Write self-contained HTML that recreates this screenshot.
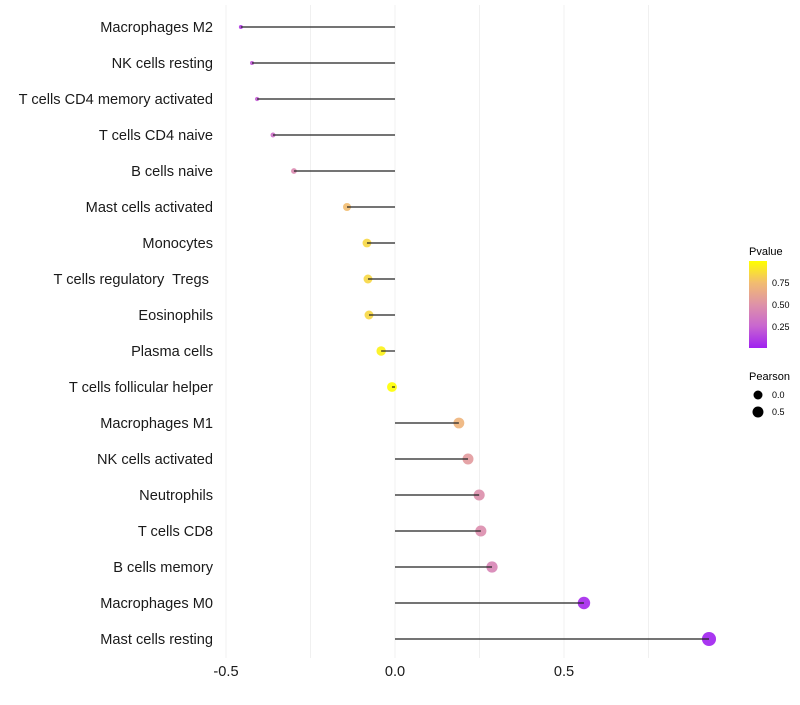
<!DOCTYPE html>
<html><head><meta charset="utf-8"><style>
body{margin:0;background:#fff;font-family:"Liberation Sans",sans-serif;}
text{white-space:pre;}
</style></head><body>
<svg id="chart" width="800" height="700" xmlns="http://www.w3.org/2000/svg">
<defs><linearGradient id="pg" x1="0" y1="1" x2="0" y2="0">
<stop offset="0" stop-color="#A020F0"/><stop offset="0.25" stop-color="#C866D0"/><stop offset="0.5" stop-color="#DE92A8"/><stop offset="0.75" stop-color="#F2BC70"/><stop offset="1" stop-color="#FFFF00"/>
</linearGradient></defs>
<g id="grid"></g><g id="marks"></g><g id="labels"></g>
<g font-size="10" fill="#000">
<text x="749" y="255" font-size="11">Pvalue</text>
<rect x="749" y="261" width="18" height="87" fill="url(#pg)"/>
<text x="772" y="286" font-size="9">0.75</text>
<text x="772" y="308" font-size="9">0.50</text>
<text x="772" y="330" font-size="9">0.25</text>
<text x="749" y="380" font-size="11">Pearson</text>
<circle cx="758" cy="395" r="4.5" fill="#000"/>
<text x="772" y="398" font-size="9">0.0</text>
<circle cx="758" cy="412" r="5.5" fill="#000"/>
<text x="772" y="415" font-size="9">0.5</text>
</g>
</svg>
<script>
const cells=["Macrophages M2","NK cells resting","T cells CD4 memory activated","T cells CD4 naive","B cells naive","Mast cells activated","Monocytes","T cells regulatory  Tregs ","Eosinophils","Plasma cells","T cells follicular helper","Macrophages M1","NK cells activated","Neutrophils","T cells CD8","B cells memory","Macrophages M0","Mast cells resting"];
const pearson=[-0.456,-0.423,-0.408,-0.361,-0.299,-0.142,-0.083,-0.080,-0.077,-0.041,-0.009,0.189,0.216,0.249,0.254,0.287,0.559,0.929];
const pvalue=[0.1,0.2,0.22,0.3,0.45,0.75,0.85,0.85,0.85,0.95,1.0,0.7,0.55,0.48,0.47,0.42,0.03,0.002];
const ticks=[-0.5,0,0.5];
const tickLabels=["-0.5","0.0","0.5"];
const grids=[-0.5,-0.25,0,0.25,0.5,0.75];
const NS="http://www.w3.org/2000/svg";
const x=v=>395+v*338;
const y=i=>27+i*36;
const r=v=>v>=0?5+2.2*v:Math.max(2,5+7*v);
const stops=[[0,[160,32,240]],[0.25,[200,102,208]],[0.5,[222,146,168]],[0.75,[242,188,112]],[1,[255,255,0]]];
function col(p){for(let k=1;k<stops.length;k++){if(p<=stops[k][0]){const a=stops[k-1],b=stops[k],t=(p-a[0])/(b[0]-a[0]);return 'rgb('+a[1].map((c,j)=>Math.round(c+(b[1][j]-c)*t)).join(',')+')';}}return 'rgb(255,255,0)';}
function mk(t,at,parent){const e=document.createElementNS(NS,t);for(const k in at)e.setAttribute(k,at[k]);parent.appendChild(e);return e;}
const G=document.getElementById('grid'),M=document.getElementById('marks'),L=document.getElementById('labels');
grids.forEach(g=>{const e=mk('line',{x1:x(g),x2:x(g),y1:5,y2:658,stroke:'#F0F0F0','stroke-width':1},G);

});
cells.forEach((c,i)=>{
const t=mk('text',{x:213,y:y(i)+5,'text-anchor':'end','font-size':14.6,fill:'#1a1a1a'},L);t.textContent=c;


const p=mk('circle',{cx:x(pearson[i]),cy:y(i),r:r(pearson[i]),fill:col(pvalue[i]),'fill-opacity':0.9},M);


const s=mk('line',{x1:x(0),x2:x(pearson[i]),y1:y(i),y2:y(i),stroke:'#222','stroke-width':1.2},M);


});
ticks.forEach((tv,k)=>{const t=mk('text',{x:x(tv),y:676,'text-anchor':'middle','font-size':14.6,fill:'#1a1a1a'},L);t.textContent=tickLabels[k];

});
</script>
</body></html>
